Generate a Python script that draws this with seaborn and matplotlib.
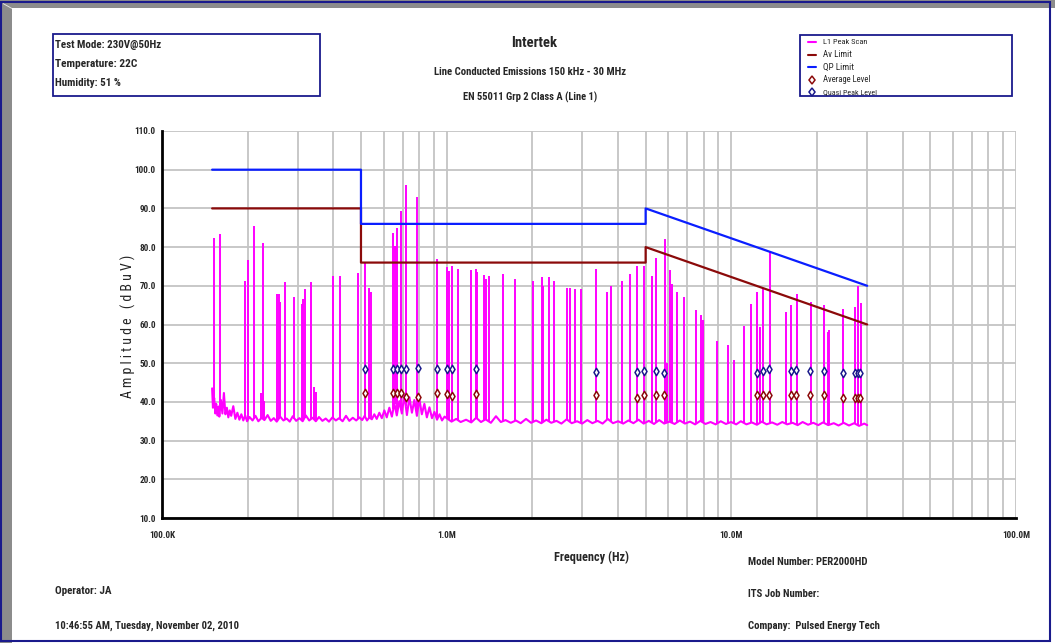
import numpy as np
import pandas as pd
import matplotlib
matplotlib.use("Agg")
import matplotlib.pyplot as plt
import seaborn as sns
from matplotlib import font_manager as fm
from matplotlib.font_manager import FontProperties
from matplotlib.patches import Rectangle, Polygon
from matplotlib.lines import Line2D
from matplotlib.ticker import FixedLocator, LogLocator, MultipleLocator, NullFormatter

# ---- data (frequency in kHz, level in dBuV) ----
base_khz = [
    150, 151, 152.5, 154, 155, 156.5, 158, 159, 161, 163, 165, 167, 169, 171, 173, 175,
    178, 181, 184, 187, 190, 193, 196, 199,
    203, 208, 213, 218, 224, 229, 235, 241, 247, 253, 260, 267, 274, 281, 288, 296,
    304, 312, 320, 329, 338, 347, 356, 366, 376, 386, 397, 408, 419, 431, 443, 455,
    468, 481, 494,
    505, 515, 525, 535, 546, 557, 568, 580, 592, 604, 616, 629, 642, 655, 668, 682,
    696, 710, 725, 740, 755, 770, 786, 802, 818, 835, 852, 870, 888, 906, 925, 944,
    963, 983,
    1000, 1040, 1080, 1120, 1170, 1220, 1270, 1320, 1370, 1430, 1490, 1550, 1610, 1680,
    1750, 1820, 1900, 1980, 2060, 2150, 2240, 2330, 2430, 2530, 2640, 2750, 2870, 2990,
    3120, 3250, 3390, 3530, 3680, 3840, 4000, 4170, 4350, 4530, 4720, 4920, 5130, 5350,
    5580, 5810, 6060, 6320, 6590, 6870, 7160, 7460, 7780, 8110, 8450, 8810, 9180, 9570,
    9980, 10400, 10800, 11300, 11800, 12300, 12800, 13300, 13900, 14500, 15100, 15700,
    16400, 17100, 17800, 18600, 19400, 20200, 21000, 21900, 22900, 23800, 24800, 25900,
    27000, 28100, 29300, 30000,
]
base_lvl = [
    43.5, 38.5, 41.0, 37.0, 39.5, 36.5, 38.8, 36.2, 40.5, 37.0, 42.3, 36.8, 38.5, 36.0, 37.8, 36.4,
    38.9, 35.6, 37.2, 35.4, 36.8, 35.2, 36.5, 35.0,
    36.1, 35.2, 36.4, 35.0, 35.9, 35.3, 36.6, 35.1, 35.8, 34.9, 36.2, 35.2, 35.7, 34.9, 36.3, 35.1,
    35.8, 35.0, 36.5, 35.2, 35.9, 35.0, 36.1, 35.1, 35.7, 34.9, 36.0, 35.2, 35.8, 35.0, 36.4, 35.1,
    35.9, 35.2, 36.0,
    35.3, 36.4, 35.2, 36.0, 35.5, 36.8, 35.6, 37.2, 35.8, 37.8, 36.0, 38.5, 36.2, 39.6, 36.5, 40.2,
    37.0, 41.8, 36.6, 41.2, 37.2, 40.5, 36.4, 40.8, 36.8, 39.5, 36.0, 38.6, 35.8, 37.4, 35.4, 36.8,
    35.2, 36.2,
    35.8, 34.9, 35.6, 34.8, 35.4, 34.7, 35.9, 34.8, 35.5, 34.6, 36.3, 34.8, 35.3, 34.6,
    35.2, 34.5, 35.6, 34.6, 35.2, 34.5, 35.4, 34.6, 35.1, 34.4, 35.5, 34.5, 35.0, 34.4,
    35.3, 34.5, 35.1, 34.4, 35.6, 34.5, 35.0, 34.4, 35.2, 34.5, 35.4, 34.4, 35.1, 34.3,
    35.3, 34.4, 34.9, 34.3, 35.2, 34.4, 34.9, 34.2, 35.1, 34.3, 34.8, 34.2, 35.0, 34.3,
    34.8, 34.2, 35.0, 34.2, 34.7, 34.1, 34.9, 34.2, 34.7, 34.1, 34.8, 34.2,
    34.6, 34.0, 34.8, 34.1, 34.6, 34.0, 34.7, 34.0, 34.5, 33.9, 34.6, 33.9,
    34.5, 33.8, 34.4, 34.0,
]

spike_khz = [
    152, 160, 195, 200, 210, 223, 226, 228, 254, 257, 260, 270, 292, 311, 314, 317, 334,
    341, 348, 400, 422, 488, 518, 533, 543, 649, 656, 667, 689, 718, 785, 927,
    1000, 1021, 1040, 1093, 1220, 1265, 1278, 1356, 1371, 1408, 1577, 1742, 2014, 2156,
    2179, 2293, 2376, 2652, 2710, 2830, 2963, 3354, 3665, 3785, 4118, 4404, 4671, 4930,
    5270, 5430, 5830, 5940, 6100, 6170, 6440, 6830, 7510, 7840, 7930, 8900, 9750, 10230,
    11070, 11720, 12330, 12600, 12940, 13660, 15550, 16230, 16960, 18990, 21100, 21780,
    22070, 24700, 27240, 27860, 28450,
]
spike_lvl = [
    82.4, 83.3, 71.2, 76.7, 85.4, 42.4, 81.0, 40.3, 68.0, 67.8, 65.8, 71.1, 67.2, 65.3, 66.5, 69.1, 71.1,
    43.9, 42.6, 72.6, 72.6, 73.2, 76.1, 69.5, 68.5, 83.6, 80.3, 85.0, 89.4, 96.0, 93.0, 76.8,
    74.8, 73.7, 75.1, 74.3, 74.0, 74.3, 73.6, 72.7, 71.7, 72.6, 73.0, 71.8, 71.3, 72.2,
    70.0, 72.4, 71.3, 69.4, 69.4, 69.1, 69.1, 74.4, 68.5, 70.0, 71.3, 73.0, 75.1, 75.1,
    72.5, 77.2, 82.1, 50.0, 74.1, 70.4, 68.4, 67.0, 63.7, 62.5, 61.2, 55.7, 54.7, 50.8,
    59.6, 65.3, 68.5, 59.4, 69.1, 78.8, 63.3, 65.0, 67.9, 65.9, 65.0, 58.1,
    58.6, 64.0, 64.6, 70.0, 65.6,
]

limit_khz = [150, 500, 500, 5000, 5000, 30000]
qp_limit = [100, 100, 86, 86, 90, 70]
av_limit = [90, 90, 76, 76, 80, 60]

level_khz = [516, 649, 667, 689, 721, 791, 927, 1000, 1040, 1270, 3350, 4670, 4920,
             5420, 5810, 12300, 12900, 13600, 16200, 16900, 18900, 21100, 24700,
             27200, 27800, 28400]
qp_level = [48.4, 48.4, 48.4, 48.4, 48.5, 48.8, 48.5, 48.5, 48.5, 48.5, 47.6, 47.7, 47.9,
            47.9, 47.5, 47.5, 48.1, 48.4, 47.9, 48.2, 47.9, 47.9, 47.5, 47.4, 47.4, 47.4]
av_level = [42.4, 42.4, 42.4, 42.4, 41.3, 41.2, 42.2, 42.0, 41.4, 42.0, 41.7, 41.1, 41.8,
            41.9, 41.9, 41.8, 41.9, 41.9, 41.8, 41.9, 41.9, 41.8, 41.1, 41.1, 41.1, 41.1]

x_ticks = [1e5, 1e6, 1e7, 1e8]
x_tick_labels = ["100.0K", "1.0M", "10.0M", "100.0M"]

# ---- style ----
sns.set_style("white")
plt.rcParams['font.family'] = ['Liberation Sans', 'DejaVu Sans']


# the report uses a narrow bold face; look for a condensed font that is installed
def find_narrow(bold):
    prefer = ["Roboto Condensed", "Liberation Sans Narrow", "Arial Narrow",
              "Noto Sans", "Open Sans", "DejaVu Sans"]
    found = []
    for f in fm.fontManager.ttflist:
        low = (f.name + " " + f.fname).lower()
        st = str(f.stretch).lower()
        is_narrow = ("narrow" in low or "condensed" in low
                     or st in ("condensed", "semi-condensed", "extra-condensed"))
        if not is_narrow or "semi" in low or "extra" in low or f.style != "normal":
            continue
        w = f.weight if isinstance(f.weight, int) else (700 if "bold" in str(f.weight) else 400)
        if w != (700 if bold else 400):
            continue
        rank = prefer.index(f.name) if f.name in prefer else len(prefer)
        found.append((rank, f.fname))
    found.sort()
    return found[0][1] if found else None


NARROW_B = find_narrow(True)
NARROW_R = find_narrow(False)


def font(size, bold=True):
    path = NARROW_B if bold else NARROW_R
    if path:
        return FontProperties(fname=path, size=size)
    return FontProperties(family=["Liberation Sans", "DejaVu Sans"], size=size,
                          weight="bold" if bold else "normal")


MAGENTA = "#ff00ff"
QP_BLUE = "#0a1eff"
AV_RED = "#8b0a0a"
NAVY = "#1a1a8c"

W, H = 1055, 643
fig = plt.figure(figsize=(W / 100, H / 100), dpi=100)
fig.patch.set_facecolor("white")
renderer = fig.canvas.get_renderer()


def fx(x):
    return x / W


def fy(y):
    return 1 - y / H


def fit(t, target, vertical=False):
    # shrink/grow a text so that it spans the same pixels as in the report
    bb = t.get_window_extent(renderer)
    span = bb.height if vertical else bb.width
    t.set_fontsize(t.get_fontsize() * target / span)
    return t


def label(x, y, s, width, size=9, bold=True, **kw):
    kw.setdefault("va", "center")
    t = fig.text(fx(x), fy(y), s, fontproperties=font(size, bold), **kw)
    return fit(t, width)


ax = fig.add_axes([fx(162), fy(518), fx(1016) - fx(162), fy(131) - fy(518)])

base = pd.DataFrame({"freq": np.array(base_khz) * 1e3, "level": base_lvl})
sns.lineplot(data=base, x="freq", y="level", color=MAGENTA, lw=1.5,
             sort=False, estimator=None, ax=ax, zorder=3)

spike_f = np.array(spike_khz) * 1e3
spike_foot = np.interp(np.log10(spike_f), np.log10(base["freq"]), base["level"])
ax.vlines(spike_f, spike_foot, spike_lvl, colors=MAGENTA, lw=1.4, zorder=3)

sns.lineplot(x=np.array(limit_khz) * 1e3, y=av_limit, color=AV_RED, lw=1.6,
             sort=False, estimator=None, ax=ax, zorder=4)
sns.lineplot(x=np.array(limit_khz) * 1e3, y=qp_limit, color=QP_BLUE, lw=1.6,
             sort=False, estimator=None, ax=ax, zorder=5)

sns.scatterplot(x=np.array(level_khz) * 1e3, y=av_level, marker="d", s=18,
                color="white", edgecolor=AV_RED, linewidth=1.1, ax=ax, zorder=6)
sns.scatterplot(x=np.array(level_khz) * 1e3, y=qp_level, marker="d", s=18,
                color="white", edgecolor=NAVY, linewidth=1.1, ax=ax, zorder=6)

# ---- axes ----
ax.set_xscale("log")
ax.set_xlim(1e5, 1e8)
ax.set_ylim(10, 110)
ax.xaxis.set_major_locator(FixedLocator(x_ticks))
ax.set_xticklabels(x_tick_labels)
ax.xaxis.set_minor_locator(LogLocator(base=10, subs=range(2, 10)))
ax.xaxis.set_minor_formatter(NullFormatter())
ax.yaxis.set_major_locator(MultipleLocator(10))
ax.yaxis.set_minor_locator(MultipleLocator(2))
ax.set_yticklabels([f"{v:.1f}" for v in ax.get_yticks()])
ax.set_xlabel("")
ax.set_ylabel("")

ax.grid(which="both", axis="x", color="#c4c4c4", lw=1.3, zorder=0)
ax.grid(which="major", axis="y", color="#c4c4c4", lw=1.3, zorder=0)
ax.set_axisbelow(True)

for s in ["top", "right"]:
    ax.spines[s].set_visible(False)
for s in ["left", "bottom"]:
    ax.spines[s].set_color("black")
    ax.spines[s].set_linewidth(2)

ax.tick_params(axis="x", which="both", direction="out", length=5, width=1.5,
               color="black", pad=4)
ax.tick_params(axis="y", which="both", direction="inout", length=8, width=1.5,
               color="black", pad=0.5)

# tick labels sized so that "100.0K" is as wide as in the report
probe = fig.text(0, 0, "100.0K", fontproperties=font(8))
fit(probe, 26)
tick_size = probe.get_fontsize()
probe.remove()
for lab in ax.get_xticklabels() + ax.get_yticklabels():
    lab.set_fontproperties(font(tick_size))

# ---- frame around the figure ----
fig.patches.append(Rectangle((0, 0), fx(12), 1, transform=fig.transFigure,
                             facecolor="#8c8c8c", edgecolor="none", zorder=0))
fig.patches.append(Rectangle((0, fy(8)), 1, 8 / H, transform=fig.transFigure,
                             facecolor="#8c8c8c", edgecolor="none", zorder=0))
fig.patches.append(Polygon([(fx(3), fy(3)), (fx(12), fy(8)), (fx(12), fy(9)), (fx(3), fy(4))],
                           closed=True, transform=fig.transFigure,
                           facecolor="#e8e8e8", edgecolor="none", zorder=0))
fig.patches.append(Rectangle((fx(1), fy(641)), fx(1050) - fx(1), fy(2) - fy(641),
                             transform=fig.transFigure, fill=False,
                             edgecolor=NAVY, lw=1.5, zorder=1))

# ---- header box ----
fig.patches.append(Rectangle((fx(53), fy(96)), fx(320) - fx(53), fy(34) - fy(96),
                             transform=fig.transFigure, fill=False,
                             edgecolor=NAVY, lw=1.3))
label(55, 45, "Test Mode: 230V@50Hz", 106)
label(55, 64, "Temperature: 22C", 82)
label(55, 83, "Humidity: 51 %", 66)

# ---- titles ----
label(534, 43, "Intertek", 46, size=12, ha="center")
label(530, 72, "Line Conducted Emissions 150 kHz - 30 MHz", 192, ha="center")
label(530, 97, "EN 55011 Grp 2 Class A (Line 1)", 134, ha="center")

# ---- legend box ----
fig.patches.append(Rectangle((fx(800), fy(96)), fx(1012) - fx(800), fy(35) - fy(96),
                             transform=fig.transFigure, fill=False,
                             edgecolor=NAVY, lw=1.3))
legend_rows = [("L1 Peak Scan", MAGENTA, None, 45), ("Av Limit", AV_RED, None, 29),
               ("QP Limit", QP_BLUE, None, 31), ("Average Level", AV_RED, "d", 48),
               ("Quasi Peak Level", NAVY, "d", 54)]
for (name, col, mk, wid), y in zip(legend_rows, [42, 54.5, 67, 80, 92]):
    if mk is None:
        fig.add_artist(Line2D([fx(808), fx(816)], [fy(y), fy(y)], color=col, lw=1.5,
                              transform=fig.transFigure))
    else:
        fig.add_artist(Line2D([fx(812)], [fy(y)], marker=mk, markersize=4.5,
                              markerfacecolor="white", markeredgecolor=col,
                              markeredgewidth=1.1, transform=fig.transFigure))
    label(823, y, name, wid, size=7, bold=False, ha="left")

# ---- axis labels and footer ----
amp = fig.text(fx(128), fy(326), "A m p l i t u d e   ( d B u V )", rotation=90,
               fontproperties=font(10, bold=False), ha="center", va="center")
fit(amp, 143, vertical=True)
label(592, 557, "Frequency (Hz)", 75, ha="center")
label(55, 591, "Operator: JA", 57)
label(55, 626, "10:46:55 AM, Tuesday, November 02, 2010", 185)
label(748, 562, "Model Number: PER2000HD", 121)
label(748, 594, "ITS Job Number:", 71)
label(748, 626, "Company:  Pulsed Energy Tech", 134)

fig.savefig("out.png", dpi=100)
